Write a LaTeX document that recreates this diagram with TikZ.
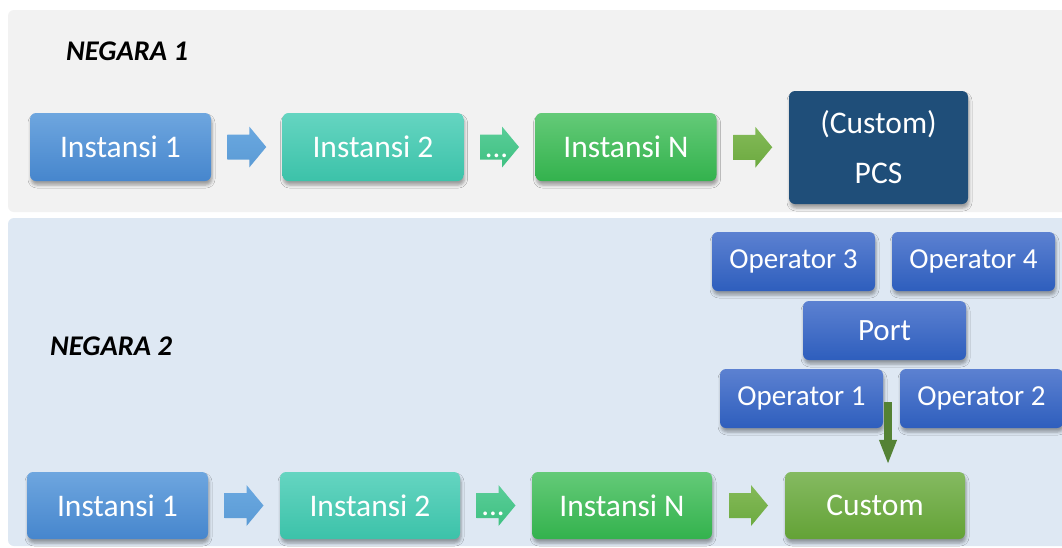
\documentclass[tikz,border=0pt]{standalone}
\usepackage{fontspec}
\setmainfont{Carlito}
\usetikzlibrary{shadows.blur,calc,arrows.meta}
\definecolor{panelA}{HTML}{F2F2F2}
\definecolor{panelB}{HTML}{DEE8F3}
\definecolor{iAtop}{HTML}{6EA6DF}
\definecolor{iAbot}{HTML}{4686CD}
\definecolor{iBtop}{HTML}{65D5C1}
\definecolor{iBbot}{HTML}{3CC2A9}
\definecolor{iNtop}{HTML}{64CA78}
\definecolor{iNbot}{HTML}{33B24D}
\definecolor{cuTop}{HTML}{85BA61}
\definecolor{cuBot}{HTML}{63A236}
\definecolor{opTop}{HTML}{5C81D1}
\definecolor{opBot}{HTML}{2E5EBD}
\definecolor{pcsCol}{HTML}{1F4E79}
\definecolor{arA}{HTML}{5B9BD5}
\definecolor{arAtop}{HTML}{6AA8E0}
\definecolor{arB}{HTML}{3FC182}
\definecolor{arBtop}{HTML}{5ACD98}
\definecolor{arC}{HTML}{6CAA40}
\definecolor{arCtop}{HTML}{84BA58}
\definecolor{downCol}{HTML}{548235}
\tikzset{
  shd/.style={blur shadow={shadow xshift=1pt, shadow yshift=-4pt, shadow blur radius=3pt, shadow opacity=35}},
  box/.style={rounded corners=6pt, minimum width=181pt, minimum height=68pt, inner sep=0pt,
    text=white, font=\fontsize{31.5}{37}\selectfont, shd},
  opbox/.style={rounded corners=6pt, minimum width=163pt, minimum height=59pt, inner sep=0pt,
    text=white, font=\fontsize{29}{35}\selectfont, shd, top color=opTop, bottom color=opBot},
  titlelbl/.style={font=\fontsize{28.5}{32}\selectfont\bfseries\itshape, text=black, inner sep=0pt},
  barrow/.pic={\path[pic actions] (-19.5,-12.5) -- (2.5,-12.5) -- (2.5,-20.5) -- (19.5,0)
     -- (2.5,20.5) -- (2.5,12.5) -- (-19.5,12.5) -- cycle;},
  dottxt/.style={text=white, font=\fontsize{31}{37}\selectfont, inner sep=0pt, anchor=base}
}
\begin{document}
\begin{tikzpicture}[x=1pt,y=-1pt]
\useasboundingbox (0,0) rectangle (1062,547);
\fill[white] (0,0) rectangle (1062,547);
% panels
\fill[panelA, rounded corners=6pt] (8,10) rectangle (1080,212);
\fill[panelB, rounded corners=6pt] (8,218) rectangle (1080,546);
\node[titlelbl, anchor=west] (n1) at (66,51) {NEGARA 1};
\node[titlelbl, anchor=west] (n2) at (50,346) {NEGARA 2};
% top row
\node[box, top color=iAtop, bottom color=iAbot] (a1) at (120.5,147) {Instansi 1};
\node[box, top color=iBtop, bottom color=iBbot] (a2) at (373,147) {Instansi 2};
\node[box, top color=iNtop, bottom color=iNbot] (aN) at (626,147) {Instansi N};
\node[box, fill=pcsCol, minimum width=179pt, minimum height=113pt, align=center,
      font=\fontsize{31.5}{50}\selectfont] (pcs) at (878.5,147.5) {(Custom)\\PCS};
\coordinate (ca1) at ($(a1.east)!0.5!(a2.west)$);
\coordinate (ca2) at ($(a2.east)!0.5!(aN.west)$);
\coordinate (ca3) at ($(aN.east)!0.5!(pcs.west)$);
\pic[top color=arAtop, bottom color=arA, shd] at (ca1) {barrow};
\pic[top color=arBtop, bottom color=arB, shd] at (ca2) {barrow};
\pic[top color=arCtop, bottom color=arC, shd] at (ca3) {barrow};
\node[dottxt] (d1) at ($(ca2)+(-3,10)$) {...};
% operators
\node[opbox] (o3) at (793.5,261.5) {Operator 3};
\node[opbox] (o4) at (973.5,261.5) {Operator 4};
\node[opbox, font=\fontsize{31}{37}\selectfont] (port) at (884.5,330.5) {Port};
\node[opbox] (o1) at (801.5,398.5) {Operator 1};
\node[opbox] (o2) at (981.5,398.5) {Operator 2};
% bottom row
\node[box, top color=iAtop, bottom color=iAbot, minimum height=67pt] (b1) at (117.5,505.5) {Instansi 1};
\node[box, top color=iBtop, bottom color=iBbot, minimum height=67pt, minimum width=180pt] (b2) at (370,505.5) {Instansi 2};
\node[box, top color=iNtop, bottom color=iNbot, minimum height=67pt, minimum width=180pt] (bN) at (622,505.5) {Instansi N};
\node[box, top color=cuTop, bottom color=cuBot, minimum height=67pt, minimum width=180pt] (cu) at (875,505.5) {Custom};
\coordinate (cb1) at ($(b1.east)!0.5!(b2.west)$);
\coordinate (cb2) at ($(b2.east)!0.5!(bN.west)$);
\coordinate (cb3) at ($(bN.east)!0.5!(cu.west)$);
\pic[top color=arAtop, bottom color=arA, shd] at (cb1) {barrow};
\pic[top color=arBtop, bottom color=arB, shd] at (cb2) {barrow};
\pic[top color=arCtop, bottom color=arC, shd] at (cb3) {barrow};
\node[dottxt] (d2) at ($(cb2)+(-3,10)$) {...};
% down arrow
\coordinate (dtop) at (888,402);
\coordinate (dbot) at ($(cu.north)+(13,-7)$);
\draw[downCol, line width=8pt, -{Triangle[width=16pt,length=25pt]}] (dtop) -- (dbot);
\end{tikzpicture}
\end{document}
